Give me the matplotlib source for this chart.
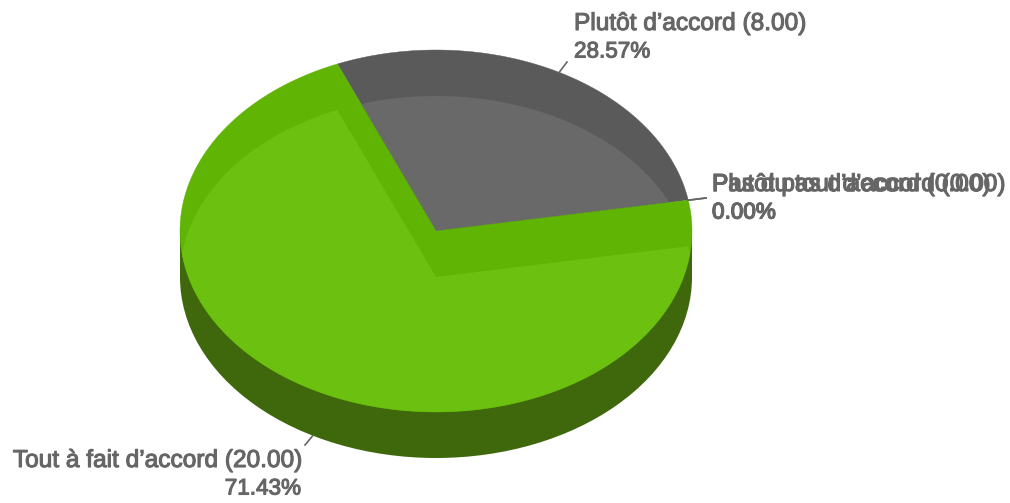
import numpy as np
import matplotlib
matplotlib.use("Agg")
import matplotlib.pyplot as plt
from matplotlib.patches import Ellipse, Polygon, Rectangle
import matplotlib.patheffects as pe

plt.rcParams["font.family"] = ["Liberation Sans", "DejaVu Sans"]

# slices, counter-clockwise from the first edge
labels = ["Plutôt d’accord", "Tout à fait d’accord", "Plutôt pas d’accord", "Pas du tout d’accord"]
values = [8.0, 20.0, 0.0, 0.0]

TOP_COLORS = ["#5a5a5a", "#5fb404", "#5fb404", "#5a5a5a"]
FACE_COLORS = ["#696969", "#6cc010", "#6cc010", "#696969"]
SIDE_COLOR = "#3f680c"
TEXT_COLOR = "#666666"

CX, CY = 436, 231
RX, RY = 256, 181
DEPTH = 46
START = 9.8

# label anchor (x, y of first line, y of second line, alignment)
LABEL_POS = [
    (574, 24, 52, "left"),
    (301, 461, 489, "right"),
    (712, 185, 213, "left"),
    (712, 185, 213, "left"),
]
LEADER_END = [(567, 62), (305, 445), (706, 198), (706, 198)]


def point(angle, dy=0):
    a = np.radians(angle)
    return CX + RX * np.cos(a), CY - RY * np.sin(a) + dy


def wedge(a0, a1, dy=0):
    t = np.linspace(a0, a1, 300)
    x, y = point(t, dy)
    return np.column_stack([np.r_[CX, x], np.r_[CY + dy, y]])


fig = plt.figure(figsize=(10.1, 5.03), dpi=100)
ax = fig.add_axes([0, 0, 1, 1])
ax.set_xlim(0, 1010)
ax.set_ylim(503, 0)
ax.axis("off")

# side wall
ax.add_patch(Ellipse((CX, CY + DEPTH), 2 * RX, 2 * RY, fc=SIDE_COLOR, ec="none", zorder=1))
ax.add_patch(Rectangle((CX - RX, CY), 2 * RX, DEPTH, fc=SIDE_COLOR, ec="none", zorder=1))

total = sum(values)
top_ellipse = Ellipse((CX, CY), 2 * RX, 2 * RY, transform=ax.transData)

angle = START
for i, v in enumerate(values):
    sweep = 360 * v / total
    if sweep > 0:
        top = Polygon(wedge(angle, angle + sweep), fc=TOP_COLORS[i], ec=TOP_COLORS[i], lw=0.3, zorder=2 + i)
        ax.add_patch(top)
        mid = (angle + sweep / 2) % 360
        if mid < 180:
            # back slice: lighter face is the shifted disc inside the slice
            face = Ellipse((CX, CY + DEPTH), 2 * RX, 2 * RY, fc=FACE_COLORS[i], ec="none", zorder=2 + i)
            ax.add_patch(face)
            face.set_clip_path(top)
        else:
            # front slice: shifted slice inside the top disc
            face = Polygon(wedge(angle, angle + sweep, DEPTH), fc=FACE_COLORS[i], ec="none", zorder=2 + i)
            ax.add_patch(face)
            face.set_clip_path(top_ellipse)
    angle += sweep

# labels
angle = START
for i, v in enumerate(values):
    sweep = 360 * v / total
    mid = angle + sweep / 2
    dy = DEPTH if 180 < mid % 360 < 360 else 0
    x0, y0 = point(mid, dy)
    x1, y1 = LEADER_END[i]
    ax.plot([x0, x1], [y0, y1], color=TEXT_COLOR, lw=1.2, zorder=10)
    tx, y_a, y_b, ha = LABEL_POS[i]
    effects = [pe.withStroke(linewidth=0.8, foreground=TEXT_COLOR)]
    ax.text(tx, y_a, f"{labels[i]} ({v:.2f})", ha=ha, va="center", fontsize=17.6,
            color=TEXT_COLOR, path_effects=effects, zorder=11)
    ax.text(tx, y_b, f"{100 * v / total:.2f}%", ha=ha, va="center", fontsize=16.2,
            color=TEXT_COLOR, path_effects=effects, zorder=11)
    angle += sweep

fig.savefig("out.png", dpi=100, facecolor="white")
